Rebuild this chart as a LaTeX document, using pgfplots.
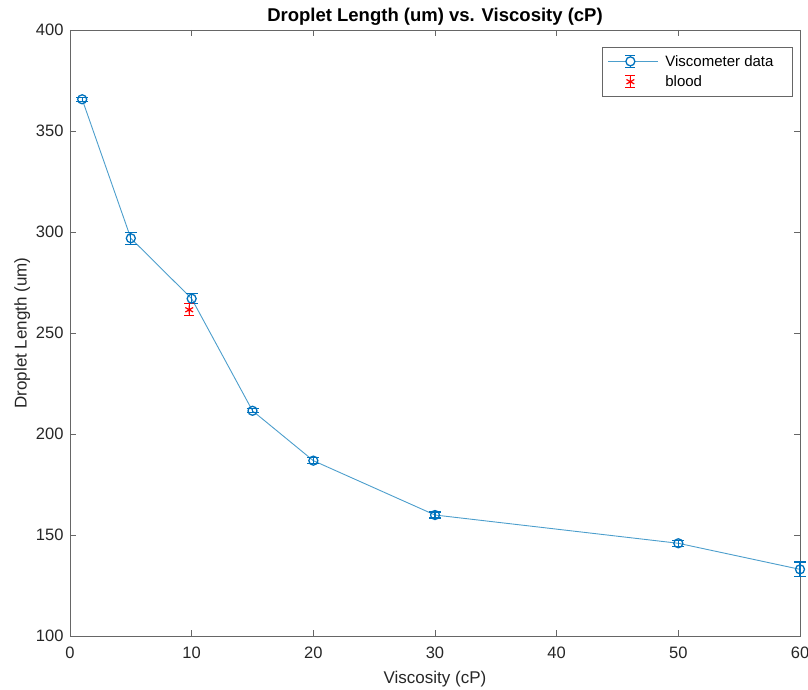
\documentclass[border=0pt]{standalone}
\usepackage{pgfplots}
\pgfplotsset{compat=1.18}
\usepackage{fontspec}
\setmainfont{Liberation Sans}
\definecolor{mblue}{rgb}{0,0.447,0.741}
\definecolor{mline}{rgb}{0.30,0.62,0.80}
\definecolor{mgray}{rgb}{0.15,0.15,0.15}
\pgfplotstableread{
x y e
1 365.7 1.0
5 296.9 3.0
10 267.0 2.5
15 211.5 1.0
20 186.8 1.5
30 159.9 1.5
50 145.9 1.5
60 133.0 3.7
}\visc
\pgfplotstableread{
x y e
9.8 261.5 3.0
}\blood
\begin{document}
\begin{tikzpicture}
\begin{axis}[
  scale only axis,
  width=730pt, height=606pt,
  xmin=0, xmax=60, ymin=100, ymax=400,
  clip=false,
  xtick={0,10,...,60}, ytick={100,150,...,400},
  tick align=inside,
  tick pos=both,
  major tick length=6pt,
  axis line style={draw=gray!80!black, line width=0.8pt},
  tick style={draw=gray!80!black, line width=0.8pt},
  /pgf/number format/assume math mode=true,
  ticklabel style={font=\fontsize{16.5}{18}\selectfont, text=mgray},
  xticklabel style={yshift=-7pt},
  yticklabel style={xshift=-3pt},
  xlabel={Viscosity (cP)},
  ylabel={Droplet Length (um)},
  label style={font=\fontsize{17}{19}\selectfont, text=mgray},
  xlabel style={yshift=-6pt},
  ylabel style={yshift=-1pt},
  title={\textbf{Droplet Length (um) vs. Viscosity (cP)}},
  title style={font=\fontsize{18.5}{20}\selectfont, yshift=-5pt},
  legend style={at={(0.990,0.972)}, anchor=north east, draw=gray!80!black,
    font=\fontsize{15}{18}\selectfont, inner xsep=6pt, inner ysep=6pt,
    row sep=4pt, cells={anchor=west}},
  legend cell align=left,
]
% connecting line
\addplot[forget plot, color=mline, line width=0.9pt, mark=none] table[x=x,y=y] {\visc};
% error bars (blue)
\addplot[forget plot, draw=none, mark=none, color=mblue,
  error bars/.cd, y dir=both, y explicit,
  error bar style={color=mblue, solid, line width=1.3pt},
  error mark=-,
  error mark options={color=mblue, line width=1.3pt, mark size=6pt, rotate=90}]
  table[x=x,y=y,y error=e] {\visc};
% circle markers
\addplot[forget plot, only marks, mark=o, mark size=4.5pt,
  mark options={draw=mblue, line width=1.3pt}] table[x=x,y=y] {\visc};
% blood error bars
\addplot[forget plot, draw=none, mark=none, color=red,
  error bars/.cd, y dir=both, y explicit,
  error bar style={color=red, solid, line width=1.3pt},
  error mark=-,
  error mark options={color=red, line width=1.3pt, mark size=5pt, rotate=90}]
  table[x=x,y=y,y error=e] {\blood};
\addplot[forget plot, only marks, color=red, mark=asterisk, mark size=4.5pt,
  mark options={line width=1.2pt}] table[x=x,y=y] {\blood};
\addlegendimage{draw=none, legend image code/.code={
  \path[draw=none, fill=none] (0pt,0pt) -- (55pt,0pt);
  \draw[mline, line width=0.9pt] (0pt,0pt) -- (50pt,0pt);
  \draw[mblue, line width=1.3pt] (22pt,-6pt) -- (22pt,6pt)
     (17pt,6pt) -- (27pt,6pt) (17pt,-6pt) -- (27pt,-6pt);
  \draw[mblue, line width=1.3pt, fill=white] (22pt,0pt) circle (4.5pt);
}}
\addlegendentry{Viscometer data\rule{11pt}{0pt}}
\addlegendimage{draw=none, legend image code/.code={
  \path[draw=none, fill=none] (0pt,0pt) -- (55pt,0pt);
  \draw[red, line width=1.3pt] (22pt,-6pt) -- (22pt,6pt)
     (17pt,6pt) -- (27pt,6pt) (17pt,-6pt) -- (27pt,-6pt);
  \draw[red, line width=1.2pt] plot[mark=asterisk, mark size=4.5pt] coordinates {(22pt,0pt)};
}}
\addlegendentry{blood}
\end{axis}
\pgfresetboundingbox
\path[use as bounding box] (-70pt,-53pt) rectangle (738pt,636pt);
\end{tikzpicture}
\end{document}
